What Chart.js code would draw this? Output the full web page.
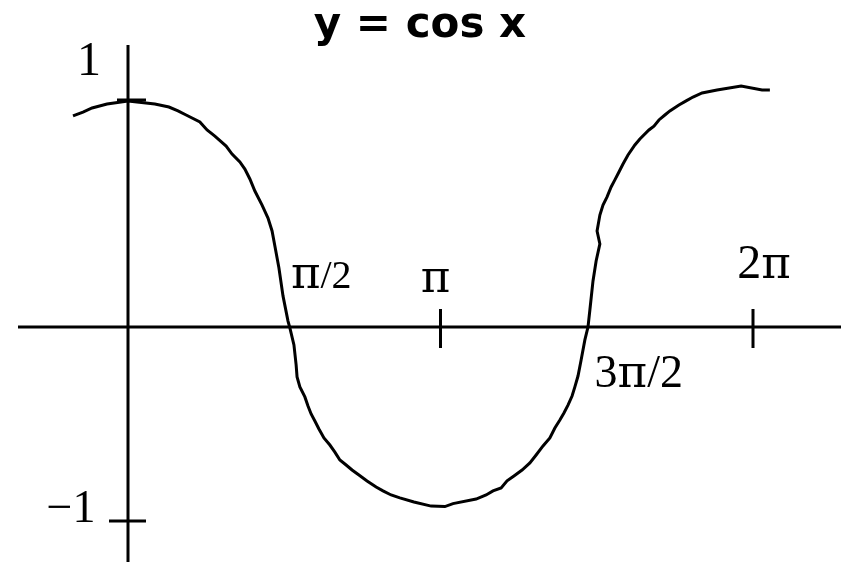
<!DOCTYPE html>
<html>
<head>
<meta charset="utf-8">
<script src="https://cdn.jsdelivr.net/npm/chart.js@4.4.1/dist/chart.umd.min.js"></script>
<style>
  html, body { margin: 0; padding: 0; background: #fff; }
  canvas { display: block; }
</style>
</head>
<body>
<canvas id="chart" width="841" height="562"></canvas>
<script>
// x is in multiples of pi, y in units of the curve (as drawn, by hand)
const curveX = [-0.176, -0.144, -0.115, -0.067, 0, 0.086, 0.131, 0.160, 0.186, 0.230, 0.253, 0.278, 0.314, 0.333, 0.358, 0.374, 0.390, 0.406, 0.429, 0.448, 0.461, 0.470, 0.483, 0.496, 0.512, 0.518,
  0.531, 0.538, 0.541, 0.550, 0.566, 0.576, 0.586, 0.598, 0.611, 0.627, 0.646, 0.662, 0.678, 0.698, 0.717, 0.739, 0.765, 0.794, 0.816, 0.842, 0.870, 0.915, 0.970, 1.014,
  1.040, 1.114, 1.146, 1.168, 1.194, 1.213, 1.235, 1.261, 1.286, 1.306, 1.328, 1.350, 1.366, 1.382, 1.395, 1.408, 1.421, 1.430, 1.440, 1.450, 1.462, 1.472,
  1.478, 1.488, 1.498, 1.510, 1.501, 1.510, 1.520, 1.533, 1.546, 1.558, 1.571, 1.584, 1.600, 1.622, 1.638, 1.667, 1.683, 1.699, 1.718, 1.734, 1.763, 1.786, 1.808, 1.837, 1.885, 1.962, 2.029, 2.054];
const curveY = [0.930, 0.947, 0.965, 0.982, 0.996, 0.982, 0.969, 0.952, 0.934, 0.903, 0.868, 0.841, 0.797, 0.762, 0.727, 0.696, 0.652, 0.599, 0.537, 0.480, 0.423, 0.357, 0.260, 0.137, 0.026, -0.004,
  -0.079, -0.167, -0.220, -0.264, -0.308, -0.348, -0.383, -0.414, -0.449, -0.489, -0.520, -0.551, -0.586, -0.608, -0.630, -0.652, -0.678, -0.705, -0.722, -0.740, -0.753, -0.771, -0.789, -0.791,
  -0.778, -0.758, -0.740, -0.722, -0.709, -0.678, -0.656, -0.630, -0.599, -0.564, -0.524, -0.489, -0.445, -0.410, -0.379, -0.344, -0.304, -0.264, -0.216, -0.145, -0.057, 0,
  0.075, 0.203, 0.291, 0.366, 0.423, 0.493, 0.537, 0.573, 0.617, 0.648, 0.683, 0.718, 0.758, 0.802, 0.828, 0.868, 0.885, 0.912, 0.934, 0.952, 0.978, 0.996, 1.013, 1.031, 1.044, 1.062, 1.044, 1.044];

const xTickValues = [1, 2];          // tick marks on the x axis (pi, 2pi)
const yTickValues = [1, -0.855];     // tick marks on the y axis (1, -1 as drawn)
const axisLabels = ['1', 'π/2', 'π', '2π', '3π/2', '−1'];
const axisLabelAt = [[0, 1], [0.5, 0], [1, 0], [2, 0], [1.5, 0], [0, -0.855]];
const titleText = 'y = cos x';

// pixel offsets / font sizes for each label, same order as axisLabels
const labelStyle = [
  { dx: -39, dy: -25, size: 48 },
  { dx: 37, dy: -39, size: 40 },
  { dx: -5, dy: -35, size: 40 },
  { dx: 11, dy: -49, size: 48 },
  { dx: 42, dy: 60, size: 46 },
  { dx: -57, dy: 1, size: 46 }
];
const piSize = 45;

// draws text centred at cx, pi glyph in a taller font than the digits
function drawMixed(ctx, txt, cx, by, size) {
  const fontFor = ch => ch === 'π' ? piSize + 'px "DejaVu Serif", serif' : size + 'px "Liberation Serif", serif';
  let w = 0;
  for (const ch of txt) { ctx.font = fontFor(ch); w += ctx.measureText(ch).width; }
  let px = cx - w / 2;
  ctx.textAlign = 'left';
  for (const ch of txt) {
    ctx.font = fontFor(ch);
    ctx.fillText(ch, px, by);
    px += ctx.measureText(ch).width;
  }
}

const axesPlugin = {
  id: 'axesPlugin',
  beforeDatasetsDraw(chart) {
    const { ctx, scales: { x, y } } = chart;
    const x0 = x.getPixelForValue(0);
    const y0 = y.getPixelForValue(0);
    ctx.save();
    ctx.strokeStyle = '#000';
    ctx.lineWidth = 3;
    ctx.lineCap = 'butt';
    // axes
    ctx.beginPath();
    ctx.moveTo(18, y0);
    ctx.lineTo(841, y0);
    ctx.moveTo(x0, 45);
    ctx.lineTo(x0, 562);
    ctx.stroke();
    // ticks
    ctx.beginPath();
    xTickValues.forEach(v => {
      const px = x.getPixelForValue(v);
      ctx.moveTo(px, y0 - 18);
      ctx.lineTo(px, y0 + 21);
    });
    yTickValues.forEach(v => {
      const py = y.getPixelForValue(v);
      const left = v > 0 ? 11 : 19;
      ctx.moveTo(x0 - left, py);
      ctx.lineTo(x0 + 18, py);
    });
    ctx.stroke();
    ctx.restore();
  },
  afterDatasetsDraw(chart) {
    const { ctx, scales: { x, y } } = chart;
    ctx.save();
    ctx.fillStyle = '#000';
    ctx.textBaseline = 'alphabetic';
    axisLabels.forEach((txt, i) => {
      const s = labelStyle[i];
      const px = x.getPixelForValue(axisLabelAt[i][0]) + s.dx;
      const py = y.getPixelForValue(axisLabelAt[i][1]) + s.dy;
      drawMixed(ctx, txt, px, py, s.size);
    });
    //title
    ctx.textAlign = 'center';
    ctx.font = 'bold 42px "DejaVu Sans", sans-serif';
    ctx.fillText(titleText, 420, 37);
    ctx.restore();
  }
};

const config = {
  type: 'scatter',
  data: {
    datasets: [{
      data: curveX.map((v, i) => ({ x: v, y: curveY[i] })),
      showLine: true,
      borderColor: '#000',
      borderWidth: 3,
      pointRadius: 0,
      tension: 0,
      fill: false
    }]
  },
  options: {
    responsive: false,
    animation: false,
    devicePixelRatio: 1,
    layout: { padding: 0 },
    scales: {
      x: { type: 'linear', display: false, min: -128 / 312.5, max: 713 / 312.5 },
      y: { type: 'linear', display: false, min: -235 / 227, max: 327 / 227 }
    },
    plugins: {
      legend: { display: false },
      tooltip: { enabled: false },
      title: { display: false }
    }
  },
  plugins: [axesPlugin]
};

var myChart = new Chart(document.getElementById('chart'), config);
</script>
</body>
</html>
